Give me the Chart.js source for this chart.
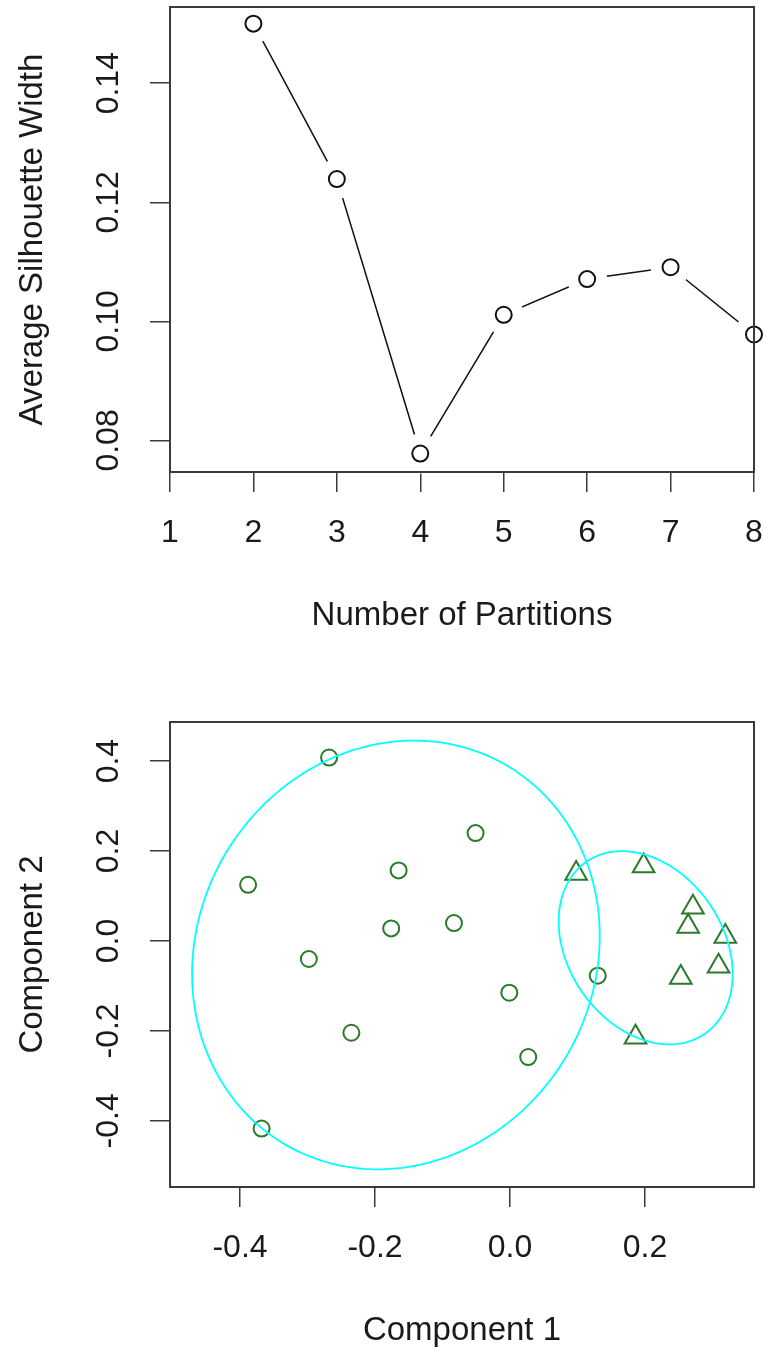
<!DOCTYPE html>
<html>
<head>
<meta charset="utf-8">
<script src="https://cdn.jsdelivr.net/npm/chart.js@4.4.1/dist/chart.umd.min.js"></script>
<style>
  html, body { margin: 0; padding: 0; background: #fff; }
  .panel { position: absolute; left: 0; width: 764px; height: 675px; }
  #top { top: 0; }
  #bottom { top: 675px; }
</style>
</head>
<body>
<div class="panel" id="top"><canvas id="silCanvas" width="764" height="675"></canvas></div>
<div class="panel" id="bottom"><canvas id="clusCanvas" width="764" height="675"></canvas></div>
<script>
// --- silhouette widths per number of partitions ---
const partitions = [2, 3, 4, 5, 6, 7, 8];
const avgSilWidth = [0.150, 0.1239, 0.0778, 0.1011, 0.1071, 0.1091, 0.0978];
const silXTicks = [1, 2, 3, 4, 5, 6, 7, 8];
const silYTicks = [0.08, 0.10, 0.12, 0.14];

// --- cluster plot (component scores) ---
const clus1X = [-0.268, -0.388, -0.298, -0.235, -0.368, -0.051, -0.165, -0.176, -0.083, -0.001, 0.027, 0.130];
const clus1Y = [0.408, 0.125, -0.040, -0.204, -0.417, 0.240, 0.157, 0.028, 0.040, -0.115, -0.258, -0.077];
const clus2X = [0.098, 0.198, 0.271, 0.264, 0.319, 0.309, 0.253, 0.186];
const clus2Y = [0.150, 0.167, 0.075, 0.032, 0.010, -0.056, -0.081, -0.214];
const clusXTicks = [-0.4, -0.2, 0.0, 0.2];
const clusYTicks = [-0.4, -0.2, 0.0, 0.2, 0.4];
// ellipse per cluster: centre and [var x, cov xy, var y]
const ellipseCenters = [[-0.169, -0.031], [0.201, -0.015]];
const ellipseShapes = [[0.0912, 0.0127, 0.2272], [0.01662, -0.00754, 0.04614]];

Chart.defaults.font.family = '"Liberation Sans", Arial, Helvetica, sans-serif';
Chart.defaults.font.size = 32;
Chart.defaults.color = '#1a1a1a';

const TICK_FONT = { size: 32, lineHeight: 1.2 };
const TITLE_FONT = { size: 33, lineHeight: 1.2 };
const TICK_GRID = { drawOnChartArea: false, drawTicks: true, tickLength: 20, color: '#3a3a3a', lineWidth: 1.5 };

// box round the plot region, drawn last like R's box()
const boxPlugin = {
  id: 'box',
  afterDraw(chart) {
    const { ctx, chartArea: a } = chart;
    ctx.save();
    ctx.strokeStyle = '#3a3a3a';
    ctx.lineWidth = 2;
    ctx.strokeRect(a.left, a.top, a.right - a.left, a.bottom - a.top);
    ctx.restore();
  }
};

const ellipsePlugin = {
  id: 'ellipses',
  afterDatasetsDraw(chart) {
    const { ctx, chartArea: a, scales: { x, y } } = chart;
    ctx.save();
    ctx.beginPath();
    ctx.rect(a.left, a.top, a.right - a.left, a.bottom - a.top);
    ctx.clip();
    ctx.strokeStyle = '#00ffff';
    ctx.lineWidth = 1.8;
    ellipseCenters.forEach((c, i) => {
      const [vx, cxy, vy] = ellipseShapes[i];
      const l11 = Math.sqrt(vx), l21 = cxy / l11, l22 = Math.sqrt(vy - l21 * l21);
      ctx.beginPath();
      for (let k = 0; k <= 200; k++) {
        const t = k / 200 * 2 * Math.PI;
        const px = x.getPixelForValue(c[0] + l11 * Math.cos(t));
        const py = y.getPixelForValue(c[1] + l21 * Math.cos(t) + l22 * Math.sin(t));
        if (k === 0) ctx.moveTo(px, py); else ctx.lineTo(px, py);
      }
      ctx.closePath();
      ctx.stroke();
    });
    ctx.restore();
  }
};

// drop the extra room chart.js keeps for edge labels, so the plot box sits where R put it
function noPad(s) {
  s.paddingTop = 0; s.paddingBottom = 0; s.paddingLeft = 0; s.paddingRight = 0;
}

function axisX(min, max, ticks, fmt, title, height, titlePad) {
  return {
    type: 'linear', min, max, z: 1,
    grid: TICK_GRID, border: { display: false },
    afterBuildTicks: s => { s.ticks = ticks.map(v => ({ value: v })); },
    afterFit: s => { s.height = height; noPad(s); },
    ticks: { font: TICK_FONT, padding: 22, maxRotation: 0, autoSkip: false, callback: fmt },
    title: { display: true, text: title, font: TITLE_FONT, padding: { top: 0, bottom: titlePad } }
  };
}

function axisY(min, max, ticks, fmt, title, labelPad) {
  return {
    type: 'linear', min, max, z: 1,
    grid: TICK_GRID, border: { display: false },
    afterBuildTicks: s => { s.ticks = ticks.map(v => ({ value: v })); },
    afterFit: s => { s.width = 170; noPad(s); },
    ticks: { font: TICK_FONT, padding: labelPad, minRotation: 90, maxRotation: 90, crossAlign: 'center', autoSkip: false, callback: fmt },
    title: { display: true, text: title, font: TITLE_FONT, padding: { top: 13, bottom: 0 } }
  };
}

const silPoints = partitions.map((p, i) => ({ x: p, y: avgSilWidth[i] }));

new Chart(document.getElementById('silCanvas'), {
  type: 'scatter',
  data: {
    datasets: [
      { data: silPoints, showLine: true, borderColor: '#111', borderWidth: 1.5, pointRadius: 0, order: 3 },
      // white discs leave the gap between line and marker (type = "b")
      { data: silPoints, pointRadius: 20, pointBackgroundColor: '#fff', pointBorderWidth: 0, pointBorderColor: '#fff', clip: false, order: 2 },
      { data: silPoints, pointStyle: 'circle', pointRadius: 8, pointBorderWidth: 2, pointBorderColor: '#111', pointBackgroundColor: 'rgba(0,0,0,0)', clip: false, order: 1 }
    ]
  },
  options: {
    responsive: false, animation: false, devicePixelRatio: 1, events: [],
    layout: { autoPadding: false, padding: { top: 7, right: 10, left: 0, bottom: 0 } },
    plugins: { legend: { display: false }, tooltip: { enabled: false } },
    scales: {
      x: axisX(1, 8, silXTicks, v => String(v), 'Number of Partitions', 203, 39),
      y: axisY(0.0747, 0.1528, silYTicks, v => v.toFixed(2), 'Average Silhouette Width', 9.9)
    }
  },
  plugins: [boxPlugin]
});

const green = '#2a7a2a';
new Chart(document.getElementById('clusCanvas'), {
  type: 'scatter',
  data: {
    datasets: [
      { data: clus1X.map((v, i) => ({ x: v, y: clus1Y[i] })), pointStyle: 'circle', pointRadius: 8, pointBorderWidth: 2, pointBorderColor: green, pointBackgroundColor: 'rgba(0,0,0,0)', clip: false },
      { data: clus2X.map((v, i) => ({ x: v, y: clus2Y[i] })), pointStyle: 'triangle', pointRadius: 12.5, pointBorderWidth: 2, pointBorderColor: green, pointBackgroundColor: 'rgba(0,0,0,0)', clip: false }
    ]
  },
  options: {
    responsive: false, animation: false, devicePixelRatio: 1, events: [],
    layout: { autoPadding: false, padding: { top: 47, right: 10, left: 0, bottom: 0 } },
    plugins: { legend: { display: false }, tooltip: { enabled: false } },
    scales: {
      x: axisX(-0.5037, 0.3615, clusXTicks, v => v.toFixed(1), 'Component 1', 163, -1),
      y: axisY(-0.547, 0.487, clusYTicks, v => v.toFixed(1), 'Component 2', 13.4)
    }
  },
  plugins: [ellipsePlugin, boxPlugin]
});
</script>
</body>
</html>
